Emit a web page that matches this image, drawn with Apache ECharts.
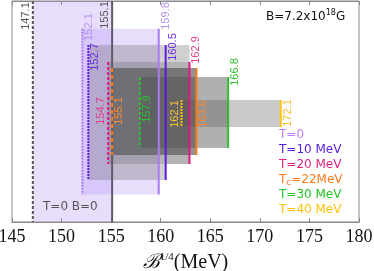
<!DOCTYPE html>
<html><head><meta charset="utf-8">
<script src="https://cdn.jsdelivr.net/npm/echarts@6/dist/echarts.min.js"></script>
<style>html,body{margin:0;padding:0;background:#fff}#c{width:374px;height:271px}</style>
</head><body><div id="c"></div>
<script>
// ---- data ----
const bands = ['T=0 B=0', 'T=0', 'T=10 MeV', 'T=20 MeV', 'Tc=22MeV', 'T=30 MeV', 'T=40 MeV'];
const lowerB = [147.1, 152.1, 152.7, 154.7, 155.1, 157.9, 162.1];
const upperB = [155.1, 159.8, 160.5, 162.9, 163.6, 166.8, 172.1];
// vertical extent of each band (y axis runs -1..1, purely decorative)
const bandTop = [1.0, 0.749, 0.602, 0.448, 0.394, 0.312, 0.104];
const bandBottom = [-1.0, -0.751, -0.620, -0.475, -0.394, -0.330, -0.140];
const xTicks = [145, 150, 155, 160, 165, 170, 175, 180];

// ---- styles ----
const fills = ['rgba(179,145,245,0.3)', 'rgba(179,145,245,0.3)', 'rgba(100,100,100,0.3)',
  'rgba(80,80,80,0.23)', 'rgba(80,80,80,0.62)', 'rgba(80,80,80,0.45)', 'rgba(80,80,80,0.3)'];
const lineColL = ['#555555', '#a97cf2', '#5a18e0', '#e0177c', '#ff7a10', '#2fbf2f', '#ffc010'];
const lineColU = ['#5e5a68', '#a97cf2', '#5a18e0', '#e0177c', '#ff7a10', '#2fbf2f', '#ffc010'];
const labColL = ['#555555', '#b490f2', '#6a30e0', '#e0408e', '#ff8a30', '#30c030', '#f5c030'];
const labColU = ['#555555', '#b490f2', '#6a30e0', '#e0408e', '#ff8a30', '#30c030', '#f5c030'];
const dashL = [[3, 2], [2, 1], [2, 1], [3, 2], [4, 3], [3, 2], [2, 1]];
const dashU = [null, null, null, null, null, null, null];
// label centre (pixel y) and side (-1 left, +1 right)
const labYL = [16, 27, 57, 111, 111, 109, 114];
const labYU = [15, 16, 47, 50, 114, 72, 113];
const sideL = [-1, 1, 1, -1, 1, 1, -1];
const sideU = [-1, 1, 1, 1, 1, 1, 1];

const chart = echarts.init(document.getElementById('c'), null, {renderer: 'canvas'});
const data = bands.map((b, i) => [lowerB[i], upperB[i], bandTop[i], bandBottom[i]]);
// grey shoulder between the T=10 and T=20 upper bounds
const shoulder = [[upperB[2], upperB[3], bandTop[2], bandBottom[3]]];

function rectOf(params, api) {
  const p1 = api.coord([api.value(0), api.value(2)]);
  const p2 = api.coord([api.value(1), api.value(3)]);
  const cs = params.coordSys;
  const top = Math.max(p1[1], cs.y), bot = Math.min(p2[1], cs.y + cs.height);
  return {p1, p2, top, bot};
}

function renderItem(params, api) {
  const i = params.dataIndex;
  const x1 = api.value(0), x2 = api.value(1);
  const {p1, p2, top, bot} = rectOf(params, api);
  const children = [
    {type: 'rect', shape: {x: p1[0], y: top, width: p2[0] - p1[0], height: bot - top},
     style: {fill: fills[i]}, z2: i},
    {type: 'line', shape: {x1: p1[0], y1: top, x2: p1[0], y2: bot},
     style: {stroke: lineColL[i], lineWidth: 2, lineDash: dashL[i]}, z2: 20 + i},
    {type: 'line', shape: {x1: p2[0], y1: top, x2: p2[0], y2: bot},
     style: {stroke: lineColU[i], lineWidth: 2, lineDash: dashU[i]}, z2: 20 + i},
    {type: 'text', x: p1[0] + sideL[i] * 7, y: labYL[i], rotation: Math.PI / 2,
     style: {text: x1.toFixed(1), fill: labColL[i], font: '11px "Liberation Sans"', align: 'center', verticalAlign: 'middle'}, z2: 40},
    {type: 'text', x: p2[0] + sideU[i] * 7, y: labYU[i], rotation: Math.PI / 2,
     style: {text: x2.toFixed(1), fill: labColU[i], font: '11px "Liberation Sans"', align: 'center', verticalAlign: 'middle'}, z2: 40}
  ];
  return {type: 'group', children};
}

function renderShoulder(params, api) {
  const {p1, p2, top, bot} = rectOf(params, api);
  return {type: 'rect', shape: {x: p1[0] + 1, y: top, width: p2[0] - p1[0] - 1, height: bot - top},
    style: {fill: fills[2]}};
}

const legendCols = ['#c07cf8', '#5a1ee0', '#e0207f', '#ff7b1c', '#22c422', '#ffc107'];
const legendY = [137, 152, 167, 182, 197, 212];
const legendTexts = [
  {text: 'T=0'}, {text: 'T=10 MeV'}, {text: 'T=20 MeV'},
  {text: 'T{s|c}=22MeV'}, {text: 'T=30 MeV'}, {text: 'T=40 MeV'}
];

const option = {
  animation: false,
  grid: {left: 12, right: 15, top: 1, bottom: 49, show: true, borderColor: '#888', borderWidth: 1,
    containLabel: false, outerBoundsMode: 'none'},
  xAxis: [{
    type: 'value', min: 145, max: 180, interval: 5, position: 'bottom',
    axisLine: {show: true, onZero: false, lineStyle: {color: '#888'}},
    axisTick: {show: true, inside: true, length: 4, lineStyle: {color: '#888'}},
    splitLine: {show: false},
    axisLabel: {fontFamily: 'Liberation Serif', fontSize: 18, color: '#111', margin: 6,
      formatter: v => xTicks.includes(v) ? String(v) : ''},
    name: '{b|ℬ}{s|1/4}{m|(MeV)}', nameLocation: 'middle', nameGap: 30,
    nameTextStyle: {rich: {
      b: {fontFamily: 'DejaVu Serif', fontStyle: 'italic', fontSize: 20, color: '#111'},
      s: {fontFamily: 'Liberation Serif', fontSize: 11, color: '#111', padding: [0, 0, 10, 0]},
      m: {fontFamily: 'Liberation Serif', fontSize: 20, color: '#111'}
    }}
  }, {
    type: 'value', min: 145, max: 180, interval: 5, position: 'top',
    axisLine: {show: true, onZero: false, lineStyle: {color: '#888'}},
    axisTick: {show: true, inside: true, length: 4, lineStyle: {color: '#888'}},
    axisLabel: {show: false}, splitLine: {show: false}
  }],
  yAxis: {type: 'value', min: -1, max: 1, show: false},
  series: [{
    type: 'custom', renderItem: renderShoulder, data: shoulder, clip: true, xAxisIndex: 0, z: 1,
    encode: {x: [0, 1], y: [2, 3]}
  }, {
    type: 'custom', renderItem, data, clip: true, xAxisIndex: 0, z: 2,
    encode: {x: [0, 1], y: [2, 3]}
  }],
  graphic: [
    {type: 'text', left: 266, top: 9, style: {text: 'B=7.2x10{u|18}G', font: '12px "DejaVu Sans"', fill: '#111',
      rich: {u: {fontSize: 8, fontFamily: 'DejaVu Sans', fill: '#111', padding: [0, 0, 7, 0]}}}},
    {type: 'text', left: 43, top: 201, style: {text: 'T=0 B=0', font: '12px "DejaVu Sans"', fill: '#555'}, z: 50}
  ].concat(legendTexts.map((t, i) => ({
    type: 'text', left: 279, top: legendY[i] - 8, z: 50,
    style: {text: t.text, font: '12px "DejaVu Sans"', fill: legendCols[i],
      rich: {s: {fontSize: 9, fontFamily: 'DejaVu Sans', fill: legendCols[i], padding: [5, 0, 0, 0]}}}
  })))
};
chart.setOption(option);
</script>
</body></html>
